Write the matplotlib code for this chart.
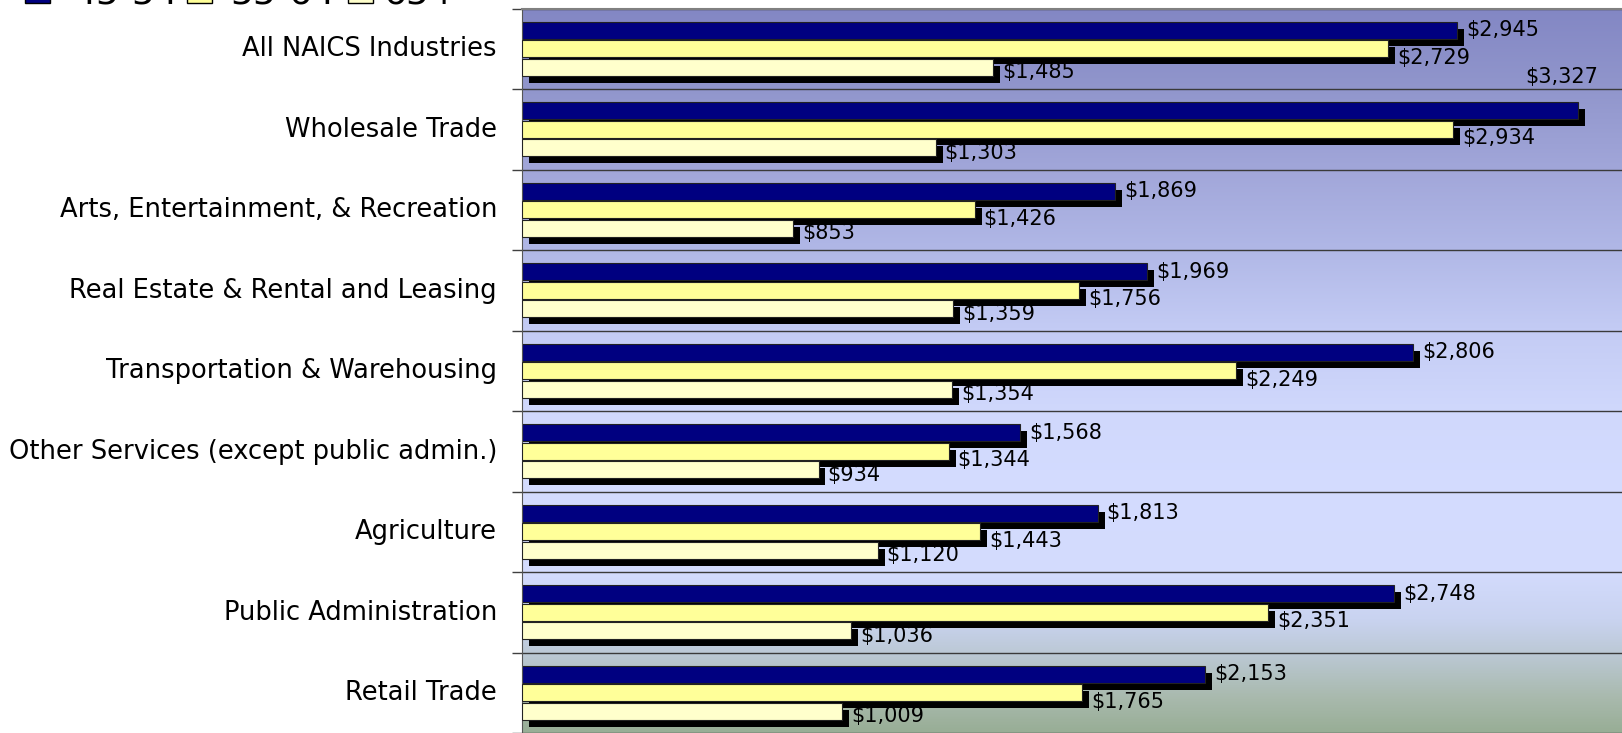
import matplotlib
matplotlib.use('Agg')
import numpy as np
import matplotlib.pyplot as plt
import matplotlib.patheffects as pe
from matplotlib.colors import LinearSegmentedColormap
from matplotlib.patches import Rectangle
from matplotlib.transforms import ScaledTranslation

# weekly earnings by industry and age group
industries = ['All NAICS Industries', 'Wholesale Trade', 'Arts, Entertainment, & Recreation',
              'Real Estate & Rental and Leasing', 'Transportation & Warehousing',
              'Other Services (except public admin.)', 'Agriculture',
              'Public Administration', 'Retail Trade']
age_groups = ['45-54', '55-64', '65+']
earn_45_54 = [2945, 3327, 1869, 1969, 2806, 1568, 1813, 2748, 2153]
earn_55_64 = [2729, 2934, 1426, 1756, 2249, 1344, 1443, 2351, 1765]
earn_65_plus = [1485, 1303, 853, 1359, 1354, 934, 1120, 1036, 1009]

bar_colors = ['#000080', '#FFFF99', '#FFFFCC']
W, H = 1622, 733
xmax = 3465

plt.rcParams['font.family'] = ['DejaVu Sans']

fig = plt.figure(figsize=(W / 100, H / 100), dpi=100)
ax = fig.add_axes([522 / W, 0, 1 - 522 / W, 1 - 8.5 / H])

# vertical gradient behind the bars
bg = LinearSegmentedColormap.from_list('bg', [
    (0.00, '#8387C4'), (0.11, '#9196CC'), (0.22, '#A1A6D9'), (0.33, '#B0B7E6'),
    (0.44, '#C3CBF4'), (0.555, '#D0D8FC'), (0.665, '#D4DCFF'), (0.78, '#D3DBFD'),
    (0.845, '#C9D3F0'), (0.89, '#BCC9D6'), (0.955, '#A8B9AC'), (1.00, '#98AE96')])
ax.imshow(np.linspace(0, 1, 256)[:, None], cmap=bg, aspect='auto',
          extent=(0, xmax, len(industries) - 0.5, -0.5), origin='upper', zorder=0)

y = np.arange(len(industries))
series = [earn_45_54, earn_55_64, earn_65_plus]
offsets = [-0.23, 0, 0.23]
label_dy = [0, -6.5, -3.6]
shadow = [pe.SimplePatchShadow(offset=(5, -5), shadow_rgbFace='black', alpha=1.0), pe.Normal()]

for i, (vals, color, dy) in enumerate(zip(series, bar_colors, offsets)):
    bars = ax.barh(y + dy, vals, height=0.215, color=color, edgecolor='#222222',
                   linewidth=0.8, zorder=2 + i)
    for b in bars:
        b.set_path_effects(shadow)
    for yc, v in zip(y + dy, vals):
        if v > xmax - 300:
            # no room on the right, put it above the bar end
            ax.annotate(f'${v:,}', xy=(v, yc), xytext=(14.4, 24.5), textcoords='offset points',
                        ha='right', va='center', fontsize=15, zorder=10)
        else:
            ax.annotate(f'${v:,}', xy=(v, yc), xytext=(6.5, label_dy[i]), textcoords='offset points',
                        ha='left', va='center', fontsize=15, zorder=10)

ax.set_xlim(0, xmax)
ax.set_ylim(len(industries) - 0.5, -0.5)
ax.set_xticks([])
ax.set_yticks(np.arange(-0.5, len(industries), 1))
ax.set_yticks(y, minor=True)
ax.set_yticklabels(industries, minor=True)
ax.tick_params(axis='y', which='major', length=7.2, width=1, color='#404040', labelleft=False)
ax.tick_params(axis='y', which='minor', length=0, pad=18, labelsize=18.5)
for lbl in ax.get_yticklabels(minor=True):
    lbl.set_transform(lbl.get_transform() + ScaledTranslation(0, 0.025, fig.dpi_scale_trans))
ax.set_axisbelow(True)
ax.grid(axis='y', which='major', color='#3a3a3a', linewidth=1)
ax.spines['left'].set_color('#555555')
ax.spines['top'].set_color('#808080')
ax.spines['top'].set_linewidth(1.5)
ax.spines['right'].set_visible(False)
ax.spines['bottom'].set_visible(False)

# legend row along the top edge
leg_box_x = [25, 187, 348]
leg_text_x = [73, 230, 383]
for name, color, bx, tx in zip(age_groups, bar_colors, leg_box_x, leg_text_x):
    fig.patches.append(Rectangle((bx / W, 1 - 2.7 / H), 25 / W, 25 / H, transform=fig.transFigure,
                                 facecolor=color, edgecolor='black', linewidth=1))
    fig.text(tx / W, 1 - 3.8 / H, name, fontsize=26, va='baseline')

fig.savefig('out.png', dpi=100)
